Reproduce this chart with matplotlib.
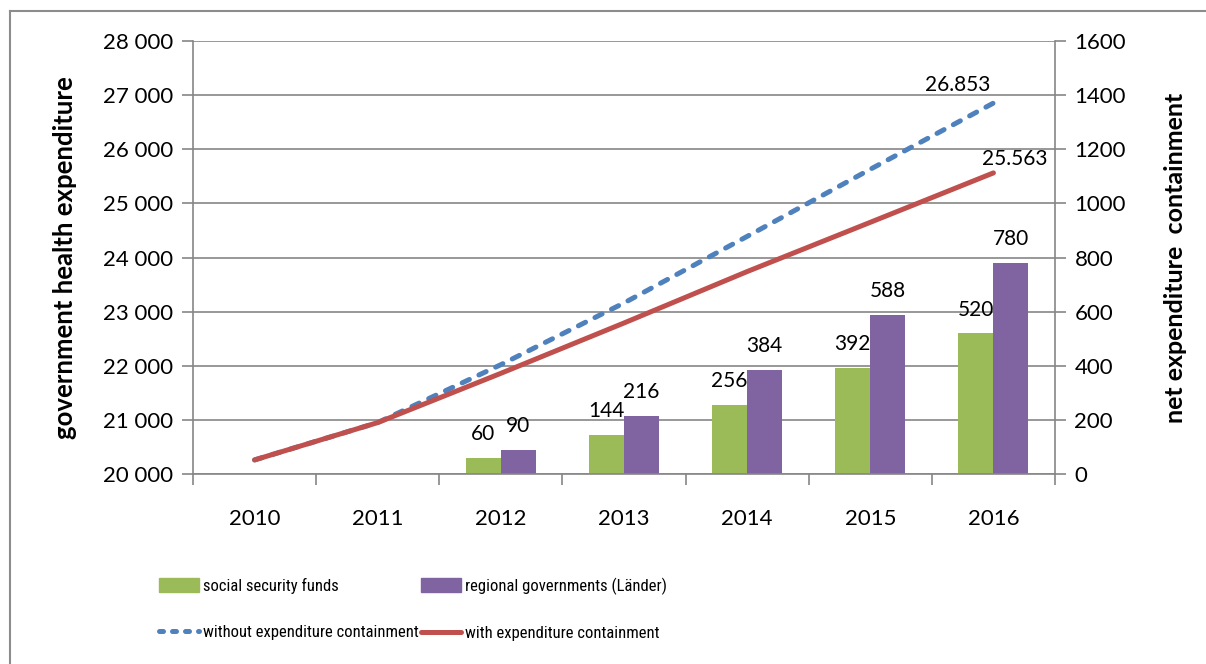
import matplotlib
matplotlib.use("Agg")
import matplotlib.pyplot as plt
from matplotlib.patches import Patch
from matplotlib.lines import Line2D
from matplotlib.ticker import FixedLocator, FuncFormatter
import numpy as np

plt.rcParams["font.family"] = ["Lato", "DejaVu Sans"]

years = ["2010", "2011", "2012", "2013", "2014", "2015", "2016"]
without_containment = [20260, 20950, 22020, 23160, 24390, 25630, 26853]
with_containment = [20260, 20950, 21860, 22790, 23740, 24650, 25563]
social_security = [0, 0, 60, 144, 256, 392, 520]
regional_gov = [0, 0, 90, 216, 384, 588, 780]

GREEN = "#9BBB59"
PURPLE = "#8064A2"
BLUE = "#4F81BD"
RED = "#C0504D"
GRID = "#868686"
FS = 15
TICK_FS = 16
LEG_FAMILY = ["Roboto Condensed", "Liberation Sans Narrow", "DejaVu Sans"]
LEG_FS = 12

fig = plt.figure(figsize=(12.06, 6.64), dpi=100)
ax_bar = fig.add_axes([193 / 1206, 1 - 474 / 664, (1055 - 193) / 1206, (474 - 41) / 664])
ax_line = ax_bar.twinx()

x = np.arange(len(years))
w = 0.284

# bars on the right-hand scale
ax_bar.bar(x - w / 2, social_security, width=w, color=GREEN, zorder=2)
ax_bar.bar(x + w / 2, regional_gov, width=w, color=PURPLE, zorder=2)
for xs, vals in ((x - w / 2, social_security), (x + w / 2, regional_gov)):
    for xi, v in zip(xs, vals):
        if v > 0:
            ax_bar.annotate(f"{v}", (xi, v), xytext=(0, 17), textcoords="offset points",
                            ha="center", va="center", fontsize=FS)

ax_bar.set_ylim(0, 1600)
ax_bar.yaxis.set_major_locator(FixedLocator(np.arange(0, 1601, 200)))
ax_bar.yaxis.tick_right()
ax_bar.yaxis.set_label_position("right")
ax_bar.grid(axis="y", color=GRID, linewidth=1.2, zorder=0)
ax_bar.set_axisbelow(True)
ax_bar.set_ylabel("net expenditure  containment", fontsize=18, fontweight="bold",
                  rotation=90, labelpad=27)

# lines on the left-hand scale
ax_line.plot(x, without_containment, color=BLUE, lw=3.6, linestyle=(0, (1.6, 2.1)),
             dash_capstyle="round", zorder=3)
ax_line.plot(x, with_containment, color=RED, lw=3.6, solid_capstyle="round", zorder=4)
ax_line.annotate("26.853", (x[-1], without_containment[-1]), xytext=(-26, 13),
                 textcoords="offset points", ha="center", va="center", fontsize=FS)
ax_line.annotate("25.563", (x[-1], with_containment[-1]), xytext=(15, 10),
                 textcoords="offset points", ha="center", va="center", fontsize=FS)

ax_line.set_ylim(20000, 28000)
ax_line.yaxis.set_major_locator(FixedLocator(np.arange(20000, 28001, 1000)))
ax_line.yaxis.set_major_formatter(FuncFormatter(lambda v, p: f"{int(v):,}".replace(",", " ")))
ax_line.yaxis.tick_left()
ax_line.yaxis.set_label_position("left")
ax_line.set_ylabel("government health expenditure", fontsize=18.5, fontweight="bold", labelpad=19)

ax_bar.set_xlim(-0.5, len(years) - 0.5)
ax_bar.xaxis.set_major_locator(FixedLocator(np.arange(-0.5, len(years), 1.0)))
ax_bar.xaxis.set_major_formatter(FuncFormatter(lambda v, p: ""))
ax_bar.xaxis.set_minor_locator(FixedLocator(x))
ax_bar.set_xticklabels(years, minor=True)
ax_bar.tick_params(axis="x", which="major", length=8, color=GRID, width=1.2, direction="out")
ax_bar.tick_params(axis="x", which="minor", length=0, labelsize=TICK_FS, pad=25)

for a in (ax_bar, ax_line):
    for s in a.spines.values():
        s.set_visible(False)
    a.tick_params(axis="y", length=8, color=GRID, width=1.2, labelsize=TICK_FS, pad=6)
ax_line.spines["left"].set_visible(True)
ax_line.spines["left"].set_color(GRID)
ax_line.spines["left"].set_linewidth(1.2)
ax_bar.spines["right"].set_visible(True)
ax_bar.spines["right"].set_color(GRID)
ax_bar.spines["right"].set_linewidth(1.2)
ax_bar.spines["bottom"].set_visible(True)
ax_bar.spines["bottom"].set_color(GRID)
ax_bar.spines["bottom"].set_linewidth(1.2)

# legend, two columns
col1 = [Patch(color=GREEN), Line2D([], [], color=BLUE, lw=3.6, linestyle=(0, (0.8, 1.8)),
                                   dash_capstyle="round")]
col2 = [Patch(color=PURPLE), Line2D([], [], color=RED, lw=3.6, solid_capstyle="round")]
common = dict(loc="center left", frameon=False, handlelength=2.4, handleheight=0.85,
              handletextpad=0.25, labelspacing=1.85, borderpad=0, borderaxespad=0,
              prop={"family": LEG_FAMILY, "size": LEG_FS})
fig.legend(col1, ["social security funds", "without expenditure containment"],
           bbox_to_anchor=(159 / 1206, 1 - 609 / 664), **common)
fig.legend(col2, ["regional governments (Länder)", "with expenditure containment"],
           bbox_to_anchor=(421 / 1206, 1 - 609 / 664), **common)

# outer frame
fig.add_artist(Line2D([10 / 1206, 10 / 1206], [0, 1 - 11 / 664], transform=fig.transFigure,
                      color="#8C8C8C", lw=1.5))
fig.add_artist(Line2D([10 / 1206, 1], [1 - 11 / 664, 1 - 11 / 664], transform=fig.transFigure,
                      color="#8C8C8C", lw=1.5))

fig.savefig("out.png", dpi=100)
